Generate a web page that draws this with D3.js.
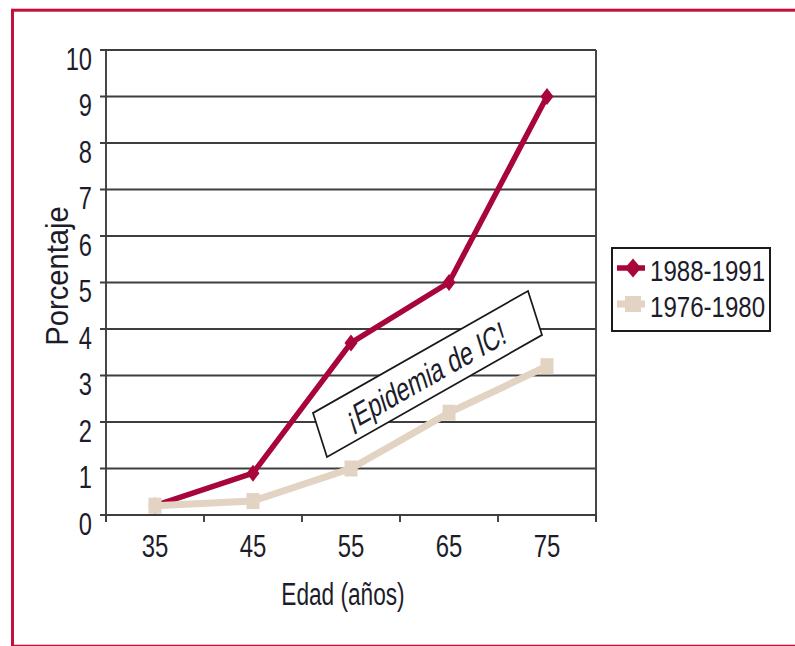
<!DOCTYPE html>
<html>
<head>
<meta charset="utf-8">
<script src="https://cdn.jsdelivr.net/npm/d3@7"></script>
<style>
  html, body { margin: 0; padding: 0; background: #fff; }
  svg { display: block; }
  text { font-family: "Liberation Sans", Arial, sans-serif; fill: #1c1c2a; }
</style>
</head>
<body>
<svg id="chart" width="795" height="646"></svg>
<script>
// Age groups on the x axis
const ages = ["35", "45", "55", "65", "75"];
// Prevalence (%) by period
const serie1988 = [0.2, 0.9, 3.7, 5.0, 9.0];
const serie1976 = [0.2, 0.3, 1.0, 2.2, 3.2];
const seriesNames = ["1988-1991", "1976-1980"];
const yTicks = [0, 1, 2, 3, 4, 5, 6, 7, 8, 9, 10];
const note = "¡Epidemia de IC!";

const RED = "#a8063a";
const BEIGE = "#e3d3c3";
const GRID = "#3e3e3e";

const svg = d3.select("#chart");

// squeeze text horizontally to get a condensed face
function condense(sel, k) {
  sel.each(function () {
    const L = this.getComputedTextLength();
    this.setAttribute("textLength", L * k);
    this.setAttribute("lengthAdjust", "spacingAndGlyphs");
  });
  return sel;
}

// outer frame
svg.append("rect")
  .attr("x", 12.5).attr("y", 10.2)
  .attr("width", 820).attr("height", 636)
  .attr("fill", "none").attr("stroke", "#c5103e").attr("stroke-width", 3);

const plot = { left: 106, right: 596, top: 50, bottom: 515 };

const x = d3.scaleBand().domain(ages).range([plot.left, plot.right]).paddingInner(0).paddingOuter(0);
const y = d3.scaleLinear().domain([0, 10]).range([plot.bottom, plot.top]);
const cx = d => x(d) + x.bandwidth() / 2;

// horizontal gridlines with small left ticks
const g = svg.append("g");
g.selectAll("line.grid").data(yTicks).join("line")
  .attr("x1", plot.left - 6).attr("x2", plot.right)
  .attr("y1", d => y(d)).attr("y2", d => y(d))
  .attr("stroke", GRID).attr("stroke-width", 1.9);

// left and right frame of the plotting area
g.append("line").attr("x1", plot.left).attr("x2", plot.left)
  .attr("y1", plot.top).attr("y2", plot.bottom + 7)
  .attr("stroke", GRID).attr("stroke-width", 1.9);
g.append("line").attr("x1", plot.right).attr("x2", plot.right)
  .attr("y1", plot.top).attr("y2", plot.bottom + 7)
  .attr("stroke", GRID).attr("stroke-width", 1.9);

// x ticks at band boundaries
const bounds = ages.map(a => x(a)).concat([plot.right]);
g.selectAll("line.xt").data(bounds).join("line")
  .attr("x1", d => d).attr("x2", d => d)
  .attr("y1", plot.bottom).attr("y2", plot.bottom + 7)
  .attr("stroke", GRID).attr("stroke-width", 1.9);

// y tick labels
condense(svg.append("g").selectAll("text").data(yTicks).join("text")
  .attr("x", 92).attr("y", d => y(d) + 19.5)
  .attr("text-anchor", "end")
  .attr("font-size", 32)
  .text(d => d), 0.74);

// x tick labels
condense(svg.append("g").selectAll("text").data(ages).join("text")
  .attr("x", d => cx(d)).attr("y", 557)
  .attr("text-anchor", "middle")
  .attr("font-size", 31.5)
  .text(d => d), 0.76);

// axis titles
condense(svg.append("text")
  .attr("transform", "translate(68,276) rotate(-90)")
  .attr("text-anchor", "middle")
  .attr("font-size", 31)
  .text("Porcentaje"), 0.94);
condense(svg.append("text")
  .attr("x", 343).attr("y", 605)
  .attr("text-anchor", "middle")
  .attr("font-size", 31)
  .text("Edad (años)"), 0.73);

// series lines
const line = d3.line().x((d, i) => cx(ages[i])).y(d => y(d));

svg.append("path").datum(serie1988)
  .attr("d", line).attr("fill", "none")
  .attr("stroke", RED).attr("stroke-width", 5.5).attr("stroke-linejoin", "round");
svg.append("g").selectAll("path").data(serie1988).join("path")
  .attr("transform", (d, i) => `translate(${cx(ages[i])},${y(d)})`)
  .attr("d", "M0,-8.5 L6.5,0 L0,8.5 L-6.5,0 Z")
  .attr("fill", RED);

svg.append("path").datum(serie1976)
  .attr("d", line).attr("fill", "none")
  .attr("stroke", BEIGE).attr("stroke-width", 7).attr("stroke-linejoin", "round");
svg.append("g").selectAll("rect").data(serie1976).join("rect")
  .attr("x", (d, i) => cx(ages[i]) - 6.5).attr("y", d => y(d) - 8)
  .attr("width", 13).attr("height", 16)
  .attr("fill", BEIGE);

// slanted annotation box
const noteW = 248, noteH = 46;
const ann = svg.append("g")
  .attr("transform", "matrix(0.867,-0.492,0.304,0.957,313,413)");
ann.append("rect")
  .attr("x", 0).attr("y", 0).attr("width", noteW).attr("height", noteH)
  .attr("fill", "#fff").attr("stroke", "#1a1a1a").attr("stroke-width", 1.8);
condense(ann.append("text")
  .attr("x", noteW / 2 - 2).attr("y", noteH / 2 + 12)
  .attr("text-anchor", "middle")
  .attr("font-size", 32)
  .text(note), 0.76);

// legend
const leg = svg.append("g");
leg.append("rect")
  .attr("x", 612).attr("y", 248).attr("width", 158).attr("height", 83)
  .attr("fill", "#fff").attr("stroke", "#1a1a1a").attr("stroke-width", 2);
const legY = [268, 304];
const colors = [RED, BEIGE];
seriesNames.forEach((name, i) => {
  leg.append("line")
    .attr("x1", 617).attr("x2", 645).attr("y1", legY[i]).attr("y2", legY[i])
    .attr("stroke", colors[i]).attr("stroke-width", i === 0 ? 5.5 : 7);
  if (i === 0) {
    leg.append("path")
      .attr("transform", `translate(633,${legY[i]})`)
      .attr("d", "M0,-9.5 L8,0 L0,9.5 L-8,0 Z").attr("fill", RED);
  } else {
    leg.append("rect")
      .attr("x", 625).attr("y", legY[i] - 8).attr("width", 16).attr("height", 16)
      .attr("fill", BEIGE);
  }
  condense(leg.append("text")
    .attr("x", 650).attr("y", legY[i] + 12.5)
    .attr("font-size", 29)
    .text(name), 0.83);
});
</script>
</body>
</html>
